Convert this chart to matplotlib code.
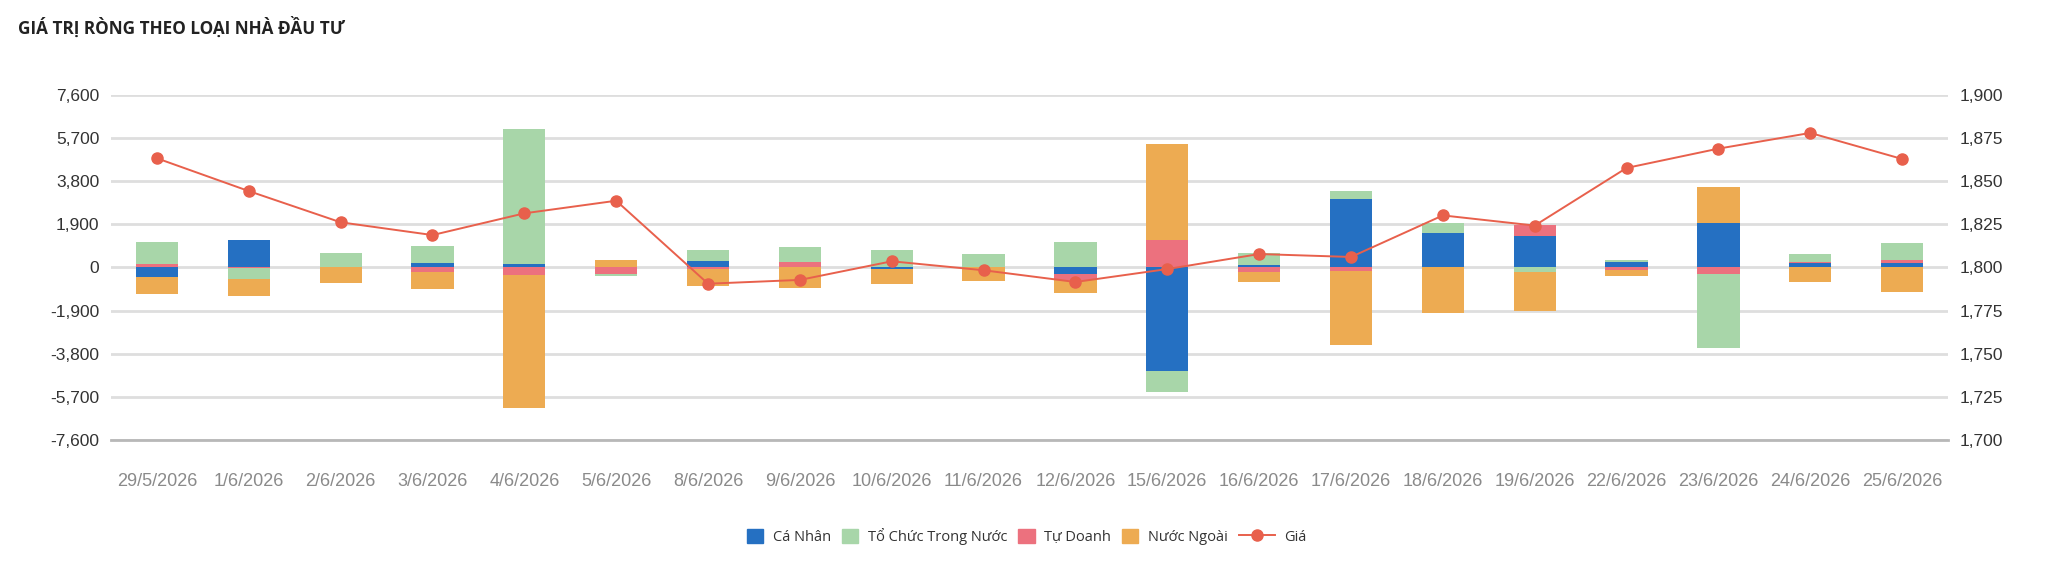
import numpy as np
import matplotlib
matplotlib.use("Agg")
import matplotlib.pyplot as plt
from matplotlib.patches import Patch
from matplotlib.lines import Line2D
from matplotlib.legend_handler import HandlerLine2D
from matplotlib.ticker import FuncFormatter

# Data
dates = ["29/5/2026", "1/6/2026", "2/6/2026", "3/6/2026", "4/6/2026", "5/6/2026",
         "8/6/2026", "9/6/2026", "10/6/2026", "11/6/2026", "12/6/2026", "15/6/2026",
         "16/6/2026", "17/6/2026", "18/6/2026", "19/6/2026", "22/6/2026", "23/6/2026",
         "24/6/2026", "25/6/2026"]
ca_nhan = [-400, 1205, 0, 180, 150, 0, 290, 0, -70, 0, -290, -4540,
           120, 3030, 1510, 1370, 230, 1950, 190, 190]
to_chuc = [970, -500, 660, 750, 5960, -90, 485, 645, 780, 590, 1115, -925,
           530, 350, 455, -205, 100, -3275, 365, 780]
tu_doanh = [175, -15, 0, -205, -325, -265, -60, 250, 0, 0, -250, 1220,
            -205, -145, 0, 515, -130, -280, 60, 130]
nuoc_ngoai = [-780, -720, -675, -750, -5850, 340, -735, -925, -675, -615, -590, 4230,
              -455, -3260, -1985, -1690, -235, 1590, -645, -1100]
gia = [1863.3, 1844.3, 1826.2, 1818.8, 1831.4, 1838.7, 1790.6, 1792.8, 1803.6, 1798.4,
       1791.6, 1799.1, 1807.8, 1806.1, 1830.2, 1824.3, 1857.7, 1868.9, 1878.0, 1862.9]

left_ticks = [-7600, -5700, -3800, -1900, 0, 1900, 3800, 5700, 7600]
right_ticks = [1700, 1725, 1750, 1775, 1800, 1825, 1850, 1875, 1900]

C_BLUE = "#2570c2"
C_GREEN = "#a8d6a9"
C_PINK = "#ec717e"
C_ORANGE = "#edab52"
C_LINE = "#e8604c"

fig = plt.figure(figsize=(20.48, 5.65), dpi=100)
ax = fig.add_axes([0.0542, 0.2212, 0.8970, 0.6107])
ax2 = ax.twinx()

x = np.arange(len(dates))
width = 0.46

# stacking order seen in the reference (closest to zero first)
stack = [(ca_nhan, C_BLUE), (tu_doanh, C_PINK), (to_chuc, C_GREEN), (nuoc_ngoai, C_ORANGE)]
pos_base = np.zeros(len(dates))
neg_base = np.zeros(len(dates))
for vals, col in stack:
    v = np.array(vals, dtype=float)
    pos = np.where(v > 0, v, 0)
    neg = np.where(v < 0, v, 0)
    ax.bar(x, pos, width, bottom=pos_base, color=col, zorder=2)
    ax.bar(x, neg, width, bottom=neg_base, color=col, zorder=2)
    pos_base += pos
    neg_base += neg

ax2.plot(x, gia, color=C_LINE, lw=1.4, marker="o", markersize=8, zorder=3)

ax.set_xlim(-0.5, len(dates) - 0.5)
ax.set_ylim(-7600, 7600)
ax2.set_ylim(1700, 1900)
ax.set_yticks(left_ticks)
ax2.set_yticks(right_ticks)
fmt = FuncFormatter(lambda v, p: f"{v:,.0f}")
ax.yaxis.set_major_formatter(fmt)
ax2.yaxis.set_major_formatter(fmt)
ax.set_xticks(x)
ax.set_xticklabels(dates)

ax.grid(axis="y", color="#dedede", lw=2.0, zorder=0)
ax.set_axisbelow(True)
for a in (ax, ax2):
    for s in a.spines.values():
        s.set_visible(False)
ax.spines["bottom"].set_visible(True)
ax.spines["bottom"].set_color("#b8b8b8")
ax.spines["bottom"].set_linewidth(2.0)

ax.tick_params(axis="y", length=0, pad=8.5, labelsize=12.5, labelcolor="#333333")
ax2.tick_params(axis="y", length=0, pad=8.5, labelsize=12.5, labelcolor="#333333")
ax.tick_params(axis="x", length=0, pad=24, labelsize=13, labelcolor="#8a8a8a")
for lab in ax.get_xticklabels() + ax.get_yticklabels() + ax2.get_yticklabels():
    lab.set_family("Liberation Sans")

fig.text(0.0088, 0.9398, "GIÁ TRỊ RÒNG THEO LOẠI NHÀ ĐẦU TƯ", family="Open Sans",
         fontweight="bold", fontsize=12.3, color="#222222", va="baseline", ha="left")


class WideLine(HandlerLine2D):
    def legend_artist(self, legend, orig_handle, fontsize, handlebox):
        handlebox.width = 2.45 * fontsize
        return super().legend_artist(legend, orig_handle, fontsize, handlebox)


handles = [Patch(color=C_BLUE, label="Cá Nhân"),
           Patch(color=C_GREEN, label="Tổ Chức Trong Nước"),
           Patch(color=C_PINK, label="Tự Doanh"),
           Patch(color=C_ORANGE, label="Nước Ngoài"),
           Line2D([], [], color=C_LINE, lw=1.4, marker="o", markersize=8, label="Giá")]
leg = fig.legend(handles=handles, loc="center", bbox_to_anchor=(0.5015, 0.0504), ncol=5,
                 frameon=False, handlelength=1.1, handleheight=1.03, handletextpad=0.68,
                 columnspacing=0.75, borderpad=0, numpoints=1,
                 handler_map={Line2D: WideLine(numpoints=1)},
                 prop={"family": "Open Sans", "size": 10.5})
for t in leg.get_texts():
    t.set_color("#333333")

fig.savefig("out.png", dpi=100)
